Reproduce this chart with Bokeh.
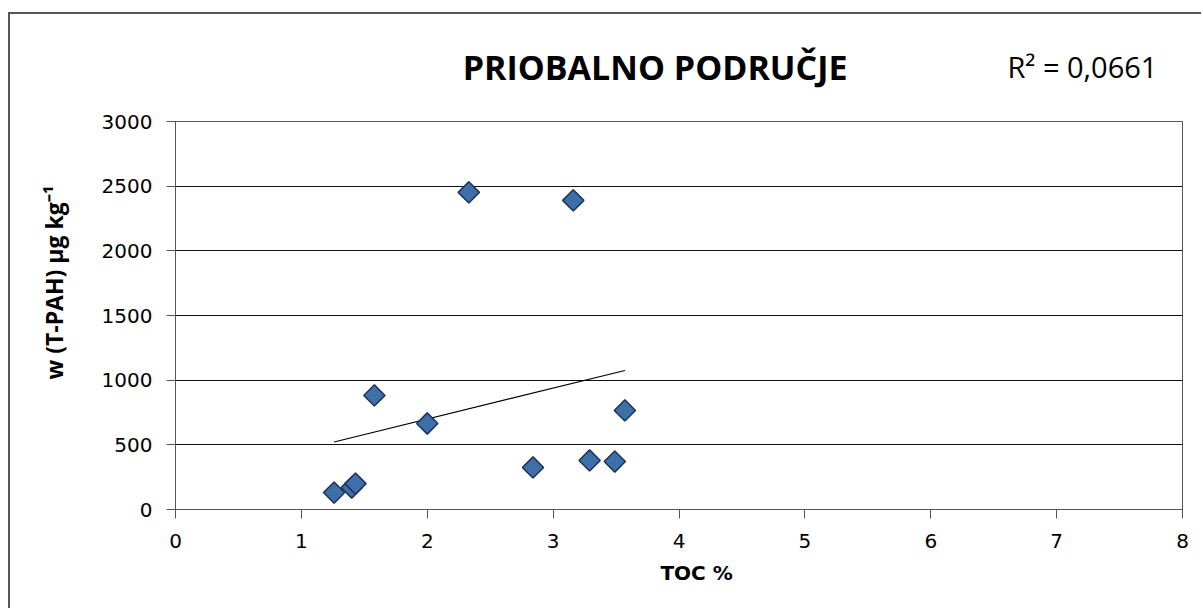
import numpy as np
from bokeh.plotting import figure
from bokeh.models import Range1d, FixedTicker, LinearAxis
from bokeh.embed import file_html
from bokeh.resources import INLINE

# --- data ---
toc = [1.26, 1.40, 1.43, 1.58, 2.00, 2.33, 2.84, 3.16, 3.29, 3.49, 3.57]
tpah = [131, 170, 200, 882, 665, 2452, 325, 2390, 379, 371, 766]
x_ticks = [0, 1, 2, 3, 4, 5, 6, 7, 8]
y_ticks = [0, 500, 1000, 1500, 2000, 2500, 3000]
title_text = "PRIOBALNO PODRUČJE"
r2_text = "R² = 0,0661"
x_label = "TOC %"
y_label = "w (T-PAH) µg kg⁻¹"

# text anchor positions (layout, in axis units)
TITLE_X, R2_X, XLABEL_X, YLABEL_Y = 3.81, 7.205, 4.14, 1755

p = figure(width=1193, height=596, output_backend="svg", toolbar_location=None,
           x_range=Range1d(0, 8), y_range=Range1d(0, 3000),
           min_border_left=165, min_border_right=21, min_border_top=107, min_border_bottom=101)
p.styles = {"border-left": "2px solid #555555", "border-top": "2px solid #555555",
            "margin-left": "8px", "margin-top": "12px"}

p.outline_line_color = "#555555"
p.outline_line_width = 1
p.xgrid.visible = False
p.ygrid.grid_line_color = "#111111"
p.ygrid.grid_line_width = 1
p.ygrid.ticker = FixedTicker(ticks=y_ticks)

for ax in (p.xaxis[0], p.yaxis[0]):
    ax.axis_line_color = "#555555"
    ax.major_tick_line_color = "#555555"
    ax.major_tick_in = 0
    ax.major_tick_out = 9
    ax.minor_tick_line_color = None
    ax.major_label_text_color = "#000000"
    ax.major_label_text_font_size = "20px"
    ax.major_label_text_font = "DejaVu Sans"

p.xaxis[0].ticker = FixedTicker(ticks=x_ticks)
p.yaxis[0].ticker = FixedTicker(ticks=y_ticks)
p.xaxis[0].major_label_standoff = 15
p.yaxis[0].major_label_standoff = 14


def text_axis(pos, text, font, size, bold, standoff, orientation="horizontal"):
    return LinearAxis(ticker=FixedTicker(ticks=[pos]), major_label_overrides={pos: text},
                      axis_line_color=None, major_tick_line_color=None,
                      minor_tick_line_color=None, major_tick_out=0, major_tick_in=0,
                      major_label_standoff=standoff, major_label_orientation=orientation,
                      major_label_text_font=font, major_label_text_font_size=size,
                      major_label_text_font_style="bold" if bold else "normal",
                      major_label_text_color="#000000")


p.add_layout(text_axis(XLABEL_X, x_label, "DejaVu Sans", "20px", True, 10), "below")
p.add_layout(text_axis(YLABEL_Y, y_label, "Open Sans", "23px", True, 28, "vertical"), "left")
p.add_layout(text_axis(R2_X, r2_text, "Open Sans", "29px", False, 36), "above")
p.add_layout(text_axis(TITLE_X, title_text, "Open Sans", "34px", True, -46), "above")

# trendline (linear fit of data)
k, b = np.polyfit(toc, tpah, 1)
xs = [min(toc), max(toc)]
p.line(xs, [k * v + b for v in xs], line_color="#000000", line_width=1.2)

p.scatter(toc, tpah, marker="square", angle=np.pi / 4, size=15, fill_color="#3f6fa8",
          line_color="#1b3358", line_width=1.5)

open("out.html", "w").write(file_html(p, INLINE))
